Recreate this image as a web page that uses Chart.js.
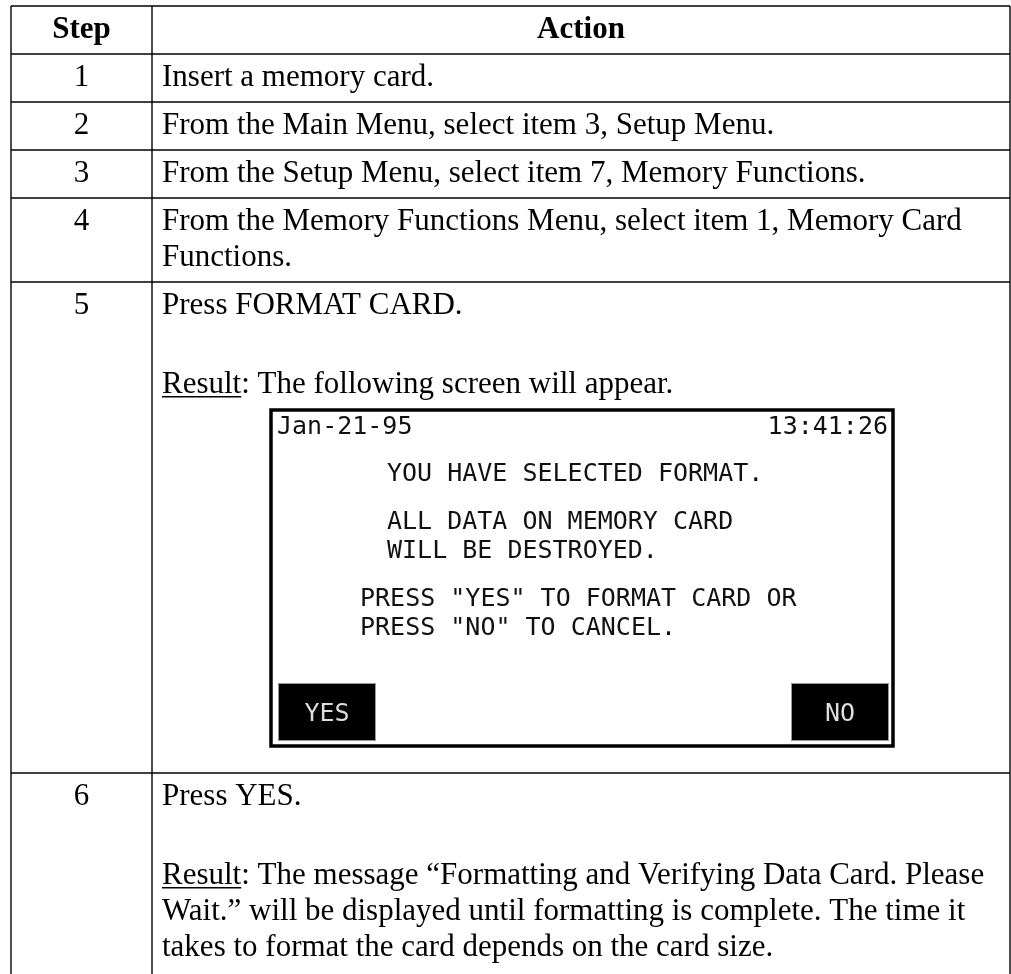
<!DOCTYPE html>
<html>
<head>
<meta charset="utf-8">
<script src="https://cdn.jsdelivr.net/npm/chart.js@4.4.1/dist/chart.umd.min.js"></script>
<style>
    html, body { margin: 0; padding: 0; background: #fff; }
    #wrap { width: 1011px; height: 974px; position: relative; }
</style>
</head>
<body>
<div id="wrap"><canvas id="stepsTable"></canvas></div>
<script>
// Column titles
const headers = ['Step', 'Action'];
// Step numbers
const steps = ['1', '2', '3', '4', '5', '6'];
// Action text per step: a list of paragraphs, each a list of wrapped lines
const actions = [
    [['Insert a memory card.']],
    [['From the Main Menu, select item 3, Setup Menu.']],
    [['From the Setup Menu, select item 7, Memory Functions.']],
    [['From the Memory Functions Menu, select item 1, Memory Card', 'Functions.']],
    [['Press FORMAT CARD.'], ['Result: The following screen will appear.']],
    [['Press YES.'], ['Result: The message \u201cFormatting and Verifying Data Card. Please',
        'Wait.\u201d will be displayed until formatting is complete. The time it',
        'takes to format the card depends on the card size.']]
];
// Screen shown under step 5
const screenDate = 'Jan-21-95';
const screenTime = '13:41:26';
const screenBlocks = [
    ['YOU HAVE SELECTED FORMAT.'],
    ['ALL DATA ON MEMORY CARD', 'WILL BE DESTROYED.'],
    ['PRESS "YES" TO FORMAT CARD OR', 'PRESS "NO" TO CANCEL.']
];
const screenButtons = ['YES', 'NO'];
const screenStep = 4; // index in steps

// Layout (page units = pixels of the 1011x974 picture)
const L = {
    left: 11, divider: 152, right: 1010, top: 6, headerH: 48,
    textX: 162, firstBase: 32, lineH: 36, paraGap: 79, padBottom: 16,
    font: '31px "Liberation Serif", "Times New Roman", serif',
    boldFont: 'bold 31px "Liberation Serif", "Times New Roman", serif',
    screen: {
        x: 271, w: 622, h: 336, gapTop: 17, gapBottom: 27,
        font: '25px "DejaVu Sans Mono", monospace',
        indents: [116, 116, 89],
        blockBase: [71, 119, 196], lineH: 29,
        btnW: 98, btnH: 58, btnInset: 7, btnBottom: 5
    }
};

const tablePlugin = {
    id: 'stepsTable',
    afterDraw(chart) {
        const ctx = chart.ctx;
        const X = v => chart.scales.x.getPixelForValue(v);
        const Y = v => chart.scales.y.getPixelForValue(v);

        ctx.save();
        ctx.fillStyle = '#000';
        ctx.strokeStyle = '#000';
        ctx.lineWidth = 1.4;

        const hline = y => {
            ctx.beginPath();
            ctx.moveTo(X(L.left), Y(y));
            ctx.lineTo(X(L.right), Y(y));
            ctx.stroke();
        };

        // header
        hline(L.top);
        ctx.font = L.boldFont;
        ctx.textAlign = 'center';
        ctx.textBaseline = 'alphabetic';
        ctx.fillText(headers[0], X((L.left + L.divider) / 2), Y(L.top + L.firstBase));
        ctx.fillText(headers[1], X((L.divider + L.right) / 2), Y(L.top + L.firstBase));

        let y = L.top + L.headerH;
        hline(y);

        steps.forEach((step, i) => {
            const rowTop = y;
            ctx.font = L.font;
            ctx.textAlign = 'center';
            ctx.fillText(step, X((L.left + L.divider) / 2), Y(rowTop + L.firstBase));

            ctx.textAlign = 'left';
            let base = rowTop + L.firstBase;
            actions[i].forEach((para, p) => {
                if (p > 0) base += L.paraGap;
                para.forEach((line, k) => {
                    if (k > 0) base += L.lineH;
                    ctx.fillText(line, X(L.textX), Y(base));
                    if (line.startsWith('Result:')) {
                        const w = ctx.measureText('Result').width;
                        ctx.fillRect(X(L.textX), Y(base + 3), w, 1.5);
                    }
                });
            });
            let rowBottom = base + L.padBottom;

            if (i === screenStep) {
                const S = L.screen;
                const bt = base + S.gapTop;
                drawScreen(ctx, X, Y, S, bt);
                rowBottom = bt + S.h + S.gapBottom;
            }
            y = rowBottom;
            if (i < steps.length - 1) hline(y);
        });

        // vertical rules run to the bottom of the picture
        [L.left, L.divider, L.right].forEach(x => {
            ctx.beginPath();
            ctx.moveTo(X(x), Y(L.top));
            ctx.lineTo(X(x), Y(974));
            ctx.stroke();
        });
        ctx.restore();
    }
};

function drawScreen(ctx, X, Y, S, top) {
    ctx.save();
    ctx.lineWidth = 3.5;
    ctx.strokeStyle = '#000';
    ctx.strokeRect(X(S.x), Y(top), X(S.x + S.w) - X(S.x), Y(top + S.h) - Y(top));

    ctx.font = S.font;
    ctx.fillStyle = '#111';
    ctx.textAlign = 'left';
    ctx.fillText(screenDate, X(S.x + 6), Y(top + 24));
    ctx.textAlign = 'right';
    ctx.fillText(screenTime, X(S.x + S.w - 5), Y(top + 24));

    ctx.textAlign = 'left';
    screenBlocks.forEach((block, b) => {
        block.forEach((line, k) => {
            ctx.fillText(line, X(S.x + S.indents[b]), Y(top + S.blockBase[b] + k * S.lineH));
        });
    });

    // soft keys
    const by = top + S.h - S.btnBottom - S.btnH;
    const bxs = [S.x + S.btnInset, S.x + S.w - S.btnInset - S.btnW + 3];
    screenButtons.forEach((label, n) => {
        const bx = bxs[n];
        ctx.fillStyle = '#000';
        ctx.fillRect(X(bx), Y(by), X(bx + S.btnW) - X(bx), Y(by + S.btnH) - Y(by));
        ctx.strokeStyle = '#999';
        ctx.lineWidth = 1;
        ctx.strokeRect(X(bx) + 0.5, Y(by) + 0.5, X(bx + S.btnW) - X(bx) - 1, Y(by + S.btnH) - Y(by) - 1);
        ctx.fillStyle = '#ddd';
        ctx.textAlign = 'center';
        ctx.fillText(label, X(bx + S.btnW / 2), Y(by + 38));
    });
    ctx.restore();
}

const ctx = document.getElementById('stepsTable').getContext('2d');
const stepsChart = new Chart(ctx, {
    type: 'scatter',
    data: { datasets: [] },
    options: {
        responsive: true,
        maintainAspectRatio: false,
        animation: false,
        layout: { padding: 0 },
        plugins: {
            legend: { display: false },
            tooltip: { enabled: false }
        },
        scales: {
            x: { type: 'linear', min: 0, max: 1011, display: false },
            y: { type: 'linear', min: 0, max: 974, reverse: true, display: false }
        }
    },
    plugins: [tablePlugin]
});
</script>
</body>
</html>
